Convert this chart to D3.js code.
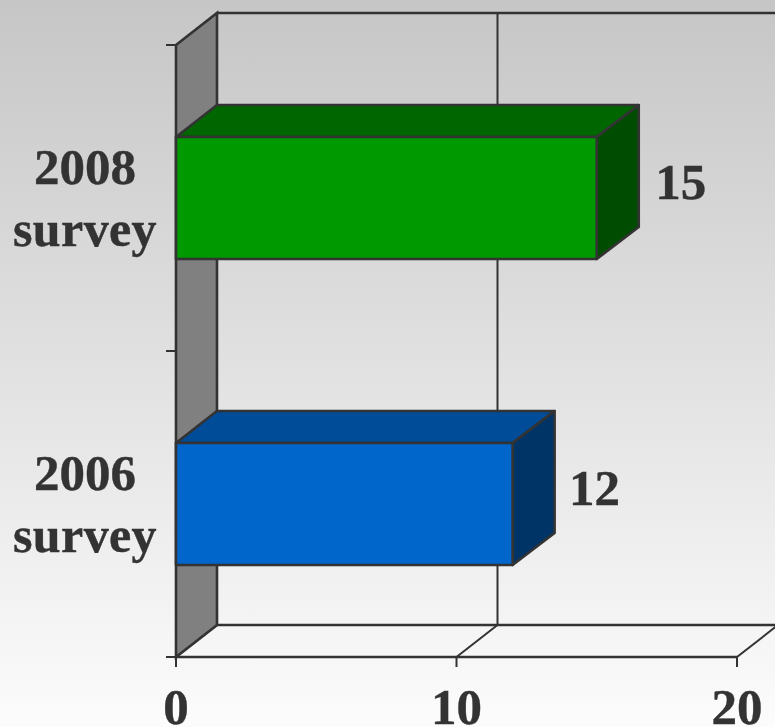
<!DOCTYPE html>
<html>
<head>
<meta charset="utf-8">
<style>html,body{margin:0;padding:0;background:#fff}svg{display:block}</style>
<script src="https://cdn.jsdelivr.net/npm/d3@7"></script>
</head>
<body>
<div id="chart"></div>
<script>
const categories = [["2008", "survey"], ["2006", "survey"]];
const values = [15, 12];
const frontColors = ["#009900", "#0066cc"];
const topColors = ["#006600", "#004c99"];
const sideColors = ["#004c00", "#003366"];
const xTicks = [0, 10, 20];

const W = 775, H = 727, depthX = 41, depthY = 32, ink = "#333333";
const svg = d3.select("#chart").append("svg").attr("width", W).attr("height", H);

const grad = svg.append("defs").append("linearGradient")
  .attr("id", "bg").attr("x1", 0).attr("y1", 0).attr("x2", 0).attr("y2", 1);
grad.append("stop").attr("offset", "0%").attr("stop-color", "#c6c6c6");
grad.append("stop").attr("offset", "100%").attr("stop-color", "#fcfcfc");
svg.append("rect").attr("width", W).attr("height", H).attr("fill", "url(#bg)");

const x = d3.scaleLinear().domain([0, 20]).range([176, 737]);
const y = d3.scaleBand().domain(categories.map((d, i) => i)).range([45, 657]);
const barH = 122;
const barY = i => y(i) + (y.bandwidth() - barH) / 2;
const poly = pts => pts.map(p => p.join(",")).join(" ");
const x0 = x(0), yT = y.range()[0], yB = y.range()[1];

svg.append("polygon")
  .attr("points", poly([[x0, yT], [x0 + depthX, yT - depthY], [x0 + depthX, yB - depthY], [x0, yB]]))
  .attr("fill", "#808080").attr("stroke", ink).attr("stroke-width", 2.6);

const xEnd = x(20);
const edges = svg.append("g").attr("stroke", ink).attr("fill", "none");
edges.append("line").attr("x1", x0 + depthX).attr("x2", xEnd + depthX)
  .attr("y1", yT - depthY).attr("y2", yT - depthY).attr("stroke-width", 2.4);
edges.append("line").attr("x1", x0 + depthX).attr("x2", xEnd + depthX)
  .attr("y1", yB - depthY).attr("y2", yB - depthY).attr("stroke-width", 2.4);
edges.append("line").attr("x1", x0).attr("x2", xEnd)
  .attr("y1", yB).attr("y2", yB).attr("stroke-width", 2.4);

xTicks.forEach(t => {
  const px = x(t);
  if (t > 0) {
    edges.append("line").attr("x1", px).attr("y1", yB).attr("x2", px + depthX).attr("y2", yB - depthY).attr("stroke-width", 2);
    edges.append("line").attr("x1", px + depthX).attr("y1", yB - depthY).attr("x2", px + depthX).attr("y2", yT - depthY).attr("stroke-width", 2);
  }
  edges.append("line").attr("x1", px).attr("y1", yB).attr("x2", px).attr("y2", yB + 10).attr("stroke-width", 2);
});
[yT, yT + y.bandwidth(), yB].forEach(v => {
  edges.append("line").attr("x1", x0 - 10).attr("x2", x0).attr("y1", v).attr("y2", v).attr("stroke-width", 2);
});

const bars = svg.selectAll("g.bar").data(values).join("g").attr("class", "bar")
  .attr("stroke", ink).attr("stroke-width", 2.6).attr("stroke-linejoin", "round");
bars.append("polygon").attr("fill", (d, i) => topColors[i])
  .attr("points", (d, i) => poly([[x0, barY(i)], [x0 + depthX, barY(i) - depthY], [x(d) + depthX + 1, barY(i) - depthY], [x(d), barY(i)]]));
bars.append("polygon").attr("fill", (d, i) => sideColors[i])
  .attr("points", (d, i) => poly([[x(d), barY(i)], [x(d) + depthX + 1, barY(i) - depthY], [x(d) + depthX + 1, barY(i) + barH - depthY], [x(d), barY(i) + barH]]));
bars.append("rect").attr("fill", (d, i) => frontColors[i])
  .attr("x", x0).attr("y", (d, i) => barY(i))
  .attr("width", d => x(d) - x0).attr("height", barH);

const font = "'Liberation Serif','Times New Roman',serif";
const label = sel => sel.attr("font-family", font).attr("font-weight", "bold").attr("font-size", 51)
  .attr("fill", ink).attr("stroke", ink).attr("stroke-width", 0.4).attr("text-anchor", "middle");

svg.selectAll("text.val").data(values).join("text").attr("class", "val").call(label)
  .attr("x", (d, i) => x(d) + (i === 0 ? 84 : 82))
  .attr("y", (d, i) => barY(i) + 62)
  .text(d => d);

categories.forEach((c, i) => {
  const cy = y(i) + y.bandwidth() / 2;
  c.forEach((s, j) => {
    svg.append("text").call(label)
      .attr("x", 85).attr("y", cy - 14 + j * 62)
      .attr("font-size", j === 1 ? 50 : 51)
      .attr("letter-spacing", j === 1 ? 0.4 : 0).text(s);
  });
});

svg.selectAll("text.tick").data(xTicks).join("text").attr("class", "tick").call(label)
  .attr("x", d => x(d))
  .attr("y", 724)
  .text(d => d);
</script>
</body>
</html>
